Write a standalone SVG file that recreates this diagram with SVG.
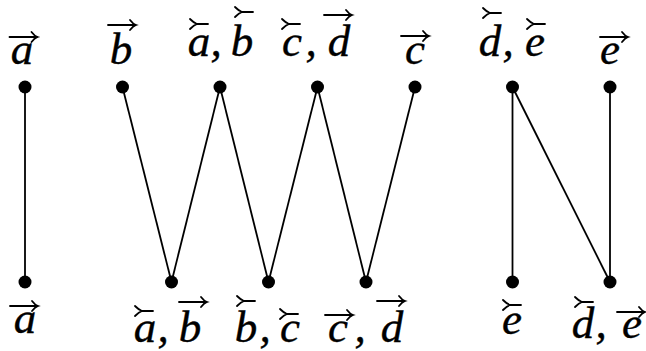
<svg xmlns="http://www.w3.org/2000/svg" width="646" height="351" viewBox="0 0 646 351">
<style>
.l{font-family:"Liberation Serif","Times New Roman",serif;font-style:italic;font-size:45px;fill:#000;stroke:#000;stroke-width:0.4;text-anchor:middle}
.e{stroke:#000;stroke-width:1.8;fill:none}
.n{fill:#000}
.acc{stroke:#000;stroke-width:1.8;fill:none;stroke-linecap:round}
</style>
<defs>
<path id="ra" d="M-14,0 H14 M8,-5 Q11,-1 14,0 Q11,1 8,5"/>
<path id="la" d="M-9,-5 Q-5,-1 -2,0 Q-5,1 -9,5 M-2,0 H9"/>
</defs>
<rect width="646" height="351" fill="#fff"/>
<g id="connectors">
<line class="e" x1="25" y1="87" x2="25" y2="282"/>
<line class="e" x1="122.5" y1="87" x2="171.5" y2="282"/>
<line class="e" x1="171.5" y1="282" x2="220" y2="87"/>
<line class="e" x1="220" y1="87" x2="268.5" y2="282"/>
<line class="e" x1="268.5" y1="282" x2="317.5" y2="87"/>
<line class="e" x1="317.5" y1="87" x2="366" y2="282"/>
<line class="e" x1="366" y1="282" x2="415" y2="87"/>
<line class="e" x1="512.5" y1="87" x2="512.5" y2="282"/>
<line class="e" x1="512.5" y1="87" x2="610" y2="282"/>
<line class="e" x1="610" y1="87" x2="610" y2="282"/>
</g>
<g id="t1"><circle class="n" cx="25" cy="87" r="6.5"/><text class="l" x="22" y="64">a</text><use href="#ra" class="acc" x="23.5" y="37"/></g>
<g id="t2"><circle class="n" cx="122.5" cy="87" r="6.5"/><text class="l" x="121" y="64">b</text><use href="#ra" class="acc" x="122" y="25"/></g>
<g id="t3"><circle class="n" cx="220" cy="87" r="6.5"/><text class="l" x="199" y="56">a</text><text class="l" x="216" y="56">,</text><text class="l" x="242" y="56">b</text><use href="#la" class="acc" x="199" y="24"/><use href="#la" class="acc" x="244" y="12"/></g>
<g id="t4"><circle class="n" cx="317.5" cy="87" r="6.5"/><text class="l" x="292" y="56">c</text><text class="l" x="311" y="56">,</text><text class="l" x="339" y="56">d</text><use href="#la" class="acc" x="291" y="24"/><use href="#ra" class="acc" x="338" y="15"/></g>
<g id="t5"><circle class="n" cx="415" cy="87" r="6.5"/><text class="l" x="415" y="64">c</text><use href="#ra" class="acc" x="415" y="36"/></g>
<g id="t6"><circle class="n" cx="512.5" cy="87" r="6.5"/><text class="l" x="490" y="56">d</text><text class="l" x="508" y="56">,</text><text class="l" x="535" y="56">e</text><use href="#la" class="acc" x="492" y="13"/><use href="#la" class="acc" x="536" y="24"/></g>
<g id="t7"><circle class="n" cx="610" cy="87" r="6.5"/><text class="l" x="610" y="64">e</text><use href="#ra" class="acc" x="614" y="37"/></g>
<g id="b1"><circle class="n" cx="25" cy="282" r="6.5"/><text class="l" x="25" y="333">a</text><use href="#ra" class="acc" x="24" y="306"/></g>
<g id="b2"><circle class="n" cx="171.5" cy="282" r="6.5"/><text class="l" x="145" y="342">a</text><text class="l" x="163" y="342">,</text><text class="l" x="190" y="342">b</text><use href="#la" class="acc" x="144" y="311"/><use href="#ra" class="acc" x="193" y="302"/></g>
<g id="b3"><circle class="n" cx="268.5" cy="282" r="6.5"/><text class="l" x="246" y="342">b</text><text class="l" x="265" y="342">,</text><text class="l" x="290" y="342">c</text><use href="#la" class="acc" x="246" y="301"/><use href="#la" class="acc" x="289" y="314"/></g>
<g id="b4"><circle class="n" cx="366" cy="282" r="6.5"/><text class="l" x="338" y="342">c</text><text class="l" x="360" y="342">,</text><text class="l" x="392" y="342">d</text><use href="#ra" class="acc" x="339" y="315"/><use href="#ra" class="acc" x="391" y="301"/></g>
<g id="b5"><circle class="n" cx="512.5" cy="282" r="6.5"/><text class="l" x="512" y="334">e</text><use href="#la" class="acc" x="512" y="305"/></g>
<g id="b6"><circle class="n" cx="610" cy="282" r="6.5"/><text class="l" x="583" y="338">d</text><text class="l" x="601" y="338">,</text><text class="l" x="632" y="338">e</text><use href="#la" class="acc" x="584" y="302"/><use href="#ra" class="acc" x="631" y="312"/></g>
</svg>
